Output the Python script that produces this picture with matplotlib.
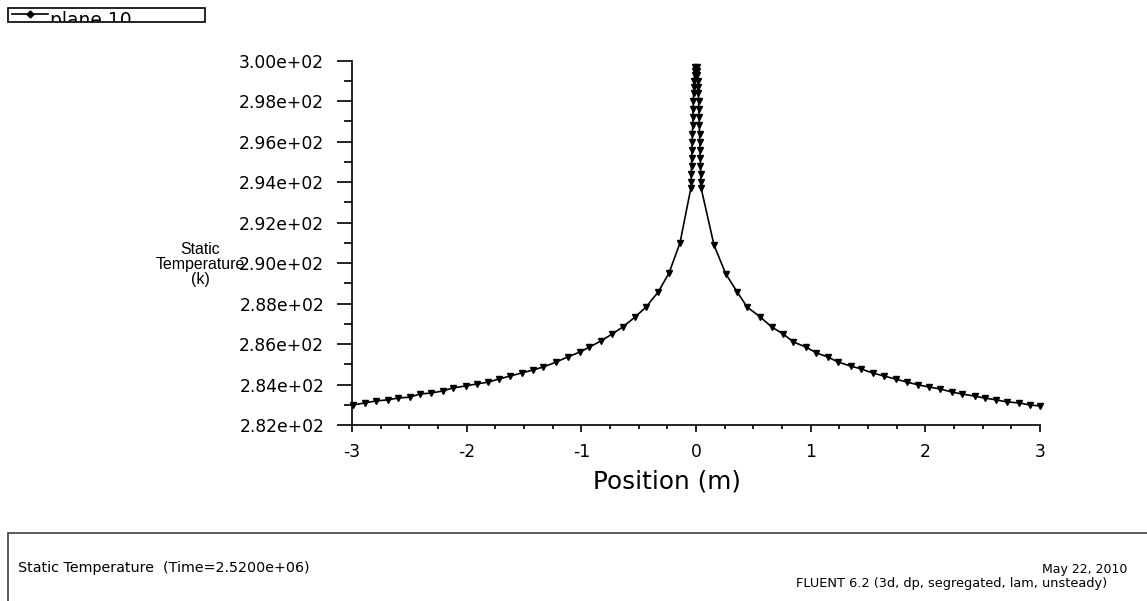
import matplotlib
matplotlib.use('Agg')
import matplotlib.pyplot as plt
from matplotlib.patches import Rectangle
from matplotlib.ticker import MultipleLocator, FuncFormatter
from matplotlib.transforms import Bbox, TransformedBbox

# position (m) and static temperature (K), left to right
left_x = [-2.99, -2.89, -2.79, -2.69, -2.60, -2.49, -2.41, -2.31, -2.21, -2.12,
          -2.01, -1.91, -1.81, -1.72, -1.62, -1.52, -1.42, -1.33, -1.22, -1.12,
          -1.01, -0.93, -0.83, -0.73, -0.64, -0.53, -0.436, -0.33, -0.235, -0.14]
left_t = [282.99, 283.09, 283.19, 283.24, 283.33, 283.38, 283.53, 283.58, 283.68, 283.83,
          283.93, 284.03, 284.12, 284.27, 284.42, 284.57, 284.72, 284.87, 285.11, 285.36,
          285.61, 285.85, 286.15, 286.50, 286.84, 287.34, 287.83, 288.57, 289.51, 290.99]

core_left_x = [-0.045, -0.043, -0.041, -0.039, -0.037, -0.035, -0.033, -0.031, -0.029,
               -0.027, -0.025, -0.023, -0.021, -0.018, -0.015, -0.012, -0.009, -0.005]
core_left_t = [293.7, 294.0, 294.4, 294.8, 295.2, 295.6, 296.0, 296.4, 296.8,
               297.2, 297.6, 298.0, 298.4, 298.7, 299.0, 299.3, 299.5, 299.7]

core_right_x = [0.005, 0.009, 0.012, 0.015, 0.018, 0.021, 0.023, 0.025, 0.027,
                0.029, 0.031, 0.033, 0.035, 0.037, 0.039, 0.041, 0.043, 0.045]
core_right_t = [299.7, 299.5, 299.3, 299.0, 298.7, 298.4, 298.0, 297.6, 297.2,
                296.8, 296.4, 296.0, 295.6, 295.2, 294.8, 294.4, 294.0, 293.7]

right_x = [0.157, 0.26, 0.36, 0.445, 0.56, 0.66, 0.76, 0.85, 0.96, 1.05,
           1.15, 1.24, 1.35, 1.44, 1.54, 1.64, 1.74, 1.84, 1.94, 2.03,
           2.13, 2.23, 2.32, 2.43, 2.52, 2.62, 2.71, 2.82, 2.91, 3.0]
right_t = [290.89, 289.46, 288.57, 287.83, 287.34, 286.84, 286.50, 286.10, 285.85, 285.56,
           285.36, 285.11, 284.91, 284.77, 284.57, 284.42, 284.27, 284.12, 283.98, 283.88,
           283.78, 283.63, 283.53, 283.43, 283.33, 283.24, 283.14, 283.09, 282.99, 282.94]

x = left_x + core_left_x + core_right_x + right_x
t = left_t + core_left_t + core_right_t + right_t

plt.rcParams['font.family'] = 'DejaVu Sans'
plt.rcParams['axes.unicode_minus'] = False

W, H = 1147, 601
fig = plt.figure(figsize=(W / 100, H / 100), dpi=100)

ax = fig.add_axes([352 / W, 1 - 425 / H, 688 / W, 364.3 / H])
ax.plot(x, t, color='black', linewidth=1.2, marker='v', markersize=4.5,
        markerfacecolor='black', markeredgecolor='black', clip_on=False)

ax.set_xlim(-3, 3)
ax.set_ylim(282, 300)
ax.spines['top'].set_visible(False)
ax.spines['right'].set_visible(False)
for s in ('left', 'bottom'):
    ax.spines[s].set_linewidth(1.2)

ax.xaxis.set_major_locator(MultipleLocator(1))
ax.xaxis.set_minor_locator(MultipleLocator(0.25))
ax.yaxis.set_major_locator(MultipleLocator(2))
ax.yaxis.set_minor_locator(MultipleLocator(1))
ax.xaxis.set_major_formatter(FuncFormatter(lambda v, p: '%d' % round(v)))
ax.yaxis.set_major_formatter(FuncFormatter(lambda v, p: '%.2fe+02' % (v / 100)))

ax.tick_params(axis='y', which='major', length=11, width=1.2, pad=9, labelsize=12.3)
ax.tick_params(axis='y', which='minor', length=6, width=1.2)
ax.tick_params(axis='x', which='major', length=5, width=1.2, pad=8, labelsize=12.3)
ax.tick_params(axis='x', which='minor', length=3, width=1.2)

fig.text(667 / W, 1 - 481 / H, 'Position (m)', ha='center', va='center', fontsize=17.8)

fig.text(200 / W, 1 - 264 / H, 'Static\nTemperature\n(k)', ha='center', va='center',
         multialignment='center', fontsize=11.4, linespacing=1.0,
         family='Liberation Sans')

# legend box in the top-left corner (its text is cut off by the box)
leg = Rectangle((8 / W, 1 - 22 / H), 197 / W, 14 / H, transform=fig.transFigure,
                fill=False, edgecolor='black', linewidth=1.2)
fig.add_artist(leg)
fig.add_artist(plt.Line2D([12 / W, 48 / W], [1 - 14 / H, 1 - 14 / H],
                          transform=fig.transFigure, color='black', linewidth=1.2))
fig.add_artist(plt.Line2D([30 / W], [1 - 14 / H], transform=fig.transFigure,
                          marker='D', markersize=3.5, color='black'))
lt = fig.text(50 / W, 1 - 26 / H, 'plane 10', ha='left', va='baseline', fontsize=13.5)
lt.set_clip_box(TransformedBbox(Bbox([[8 / W, 1 - 21.5 / H], [205 / W, 1 - 8 / H]]),
                                fig.transFigure))

# info box at the bottom
box = Rectangle((8 / W, -0.05), 1.1, 0.05 + (601 - 533) / H, transform=fig.transFigure,
                fill=False, edgecolor='#404040', linewidth=1.2, clip_on=False)
fig.add_artist(box)
fig.text(18 / W, 1 - 568 / H, 'Static Temperature  (Time=2.5200e+06)',
         ha='left', va='center', fontsize=10.3)
fig.text(1127 / W, 1 - 569 / H, 'May 22, 2010', ha='right', va='center', fontsize=9)
fig.text(1107 / W, 1 - 584 / H, 'FLUENT 6.2 (3d, dp, segregated, lam, unsteady)',
         ha='right', va='center', fontsize=9.3)

fig.savefig('out.png', dpi=100)
